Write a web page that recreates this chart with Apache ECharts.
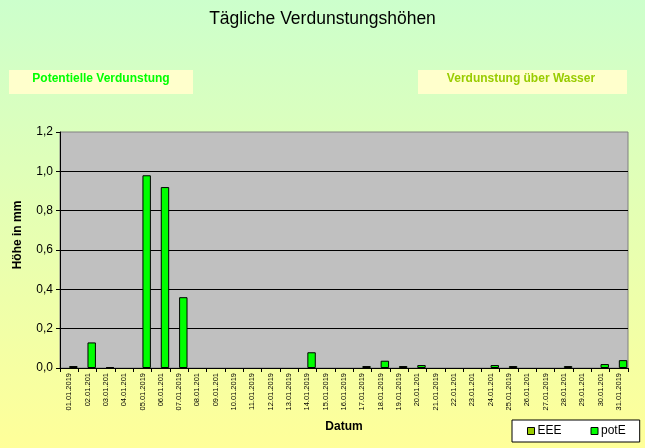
<!DOCTYPE html>
<html>
<head>
<meta charset="utf-8">
<script src="https://cdn.jsdelivr.net/npm/echarts@6/dist/echarts.min.js"></script>
<style>html,body{margin:0;padding:0;}#c{width:645px;height:448px;}</style>
</head>
<body>
<div id="c"></div>
<script>
const categories = ['01.01.2019','02.01.201','03.01.201','04.01.201','05.01.2019','06.01.201','07.01.2019','08.01.201','09.01.201','10.01.2019','11.01.2019','12.01.2019','13.01.2019','14.01.2019','15.01.2019','16.01.2019','17.01.2019','18.01.2019','19.01.2019','20.01.201','21.01.2019','22.01.201','23.01.201','24.01.201','25.01.2019','26.01.201','27.01.2019','28.01.201','29.01.201','30.01.201','31.01.2019'];
const eeeValues = [null,null,null,null,null,null,null,null,null,null,null,null,null,null,null,null,null,null,null,null,null,null,null,null,null,null,null,null,null,null,null];
const potEValues = [0.01,0.13,0.005,0,0.98,0.92,0.36,0,0,0,0,0,0,0.08,0,0,0.01,0.037,0.01,0.015,0,0,0,0.015,0.01,0,0,0.01,0,0.02,0.04];
const yTicks = [0,0.2,0.4,0.6,0.8,1.0,1.2];

const chart = echarts.init(document.getElementById('c'), null, {renderer:'canvas'});
const FONT = 'Liberation Sans, Arial, sans-serif';
const barData = vals => vals.map(v => (v === 0 ? {value:0, itemStyle:{borderWidth:0}} : v));
chart.setOption({
  animation:false,
  backgroundColor:{type:'linear',x:0,y:0,x2:0,y2:1,colorStops:[{offset:0,color:'#CCFFCC'},{offset:1,color:'#FFFF99'}]},
  textStyle:{fontFamily:FONT},
  grid:{left:60,top:132,right:17,bottom:80,show:true,backgroundColor:'#C0C0C0',borderColor:'#808080',borderWidth:1,containLabel:false},
  graphic:[
    {type:'text',left:'center',top:10,style:{text:'Tägliche Verdunstungshöhen',font:'17.5px '+FONT,fill:'#000'}},
    {type:'rect',shape:{x:9,y:70,width:184,height:24},style:{fill:'#FFFFCC'}},
    {type:'text',x:101,y:79,style:{text:'Potentielle Verdunstung',font:'bold 12px '+FONT,fill:'#00FF00',textAlign:'center',textVerticalAlign:'middle'}},
    {type:'rect',shape:{x:418,y:70,width:209,height:24},style:{fill:'#FFFFCC'}},
    {type:'text',x:521,y:79,style:{text:'Verdunstung über Wasser',font:'bold 12px '+FONT,fill:'#99CC00',textAlign:'center',textVerticalAlign:'middle'}},
    {type:'text',x:18,y:235,rotation:Math.PI/2,style:{text:'Höhe in mm',font:'bold 12px '+FONT,fill:'#000',textAlign:'center',textVerticalAlign:'middle'}},
    {type:'text',x:344,y:427,style:{text:'Datum',font:'bold 12px '+FONT,fill:'#000',textAlign:'center',textVerticalAlign:'middle'}}
  ],
  legend:{
    left:512,top:420,
    backgroundColor:'#FFFFFF',borderColor:'#000',borderWidth:1,
    padding:[5,14,5,15],itemGap:29,itemWidth:7,itemHeight:7,icon:'rect',
    itemStyle:{borderColor:'#000',borderWidth:1},
    textStyle:{fontSize:12,fontFamily:FONT,color:'#000',padding:[0,0,0,-2]},
    data:['EEE','potE']
  },
  xAxis:{
    type:'category',data:categories,boundaryGap:true,
    axisLine:{lineStyle:{color:'#000',width:1}},
    axisTick:{show:true,length:4,lineStyle:{color:'#000'}},
    axisLabel:{rotate:90,fontSize:7.5,color:'#000',margin:5,interval:0,fontFamily:FONT},
    splitLine:{show:false}
  },
  yAxis:{
    type:'value',min:0,max:1.2,interval:0.2,
    axisLine:{show:true,lineStyle:{color:'#000',width:1}},
    axisTick:{show:true,length:4,lineStyle:{color:'#000'}},
    axisLabel:{fontSize:12,color:'#000',margin:7,fontFamily:FONT,formatter:v=>v.toFixed(1).replace('.',',')},
    splitLine:{show:true,showMaxLine:false,lineStyle:{color:'#000',width:1}}
  },
  series:[
    {name:'EEE',type:'bar',data:eeeValues,barWidth:'46%',barGap:'0%',itemStyle:{color:'#99CC00',borderColor:'#000',borderWidth:1}},
    {name:'potE',type:'bar',data:barData(potEValues),barWidth:'46%',barGap:'0%',itemStyle:{color:'#00FF00',borderColor:'#000',borderWidth:1}}
  ]
});
</script>
</body>
</html>
